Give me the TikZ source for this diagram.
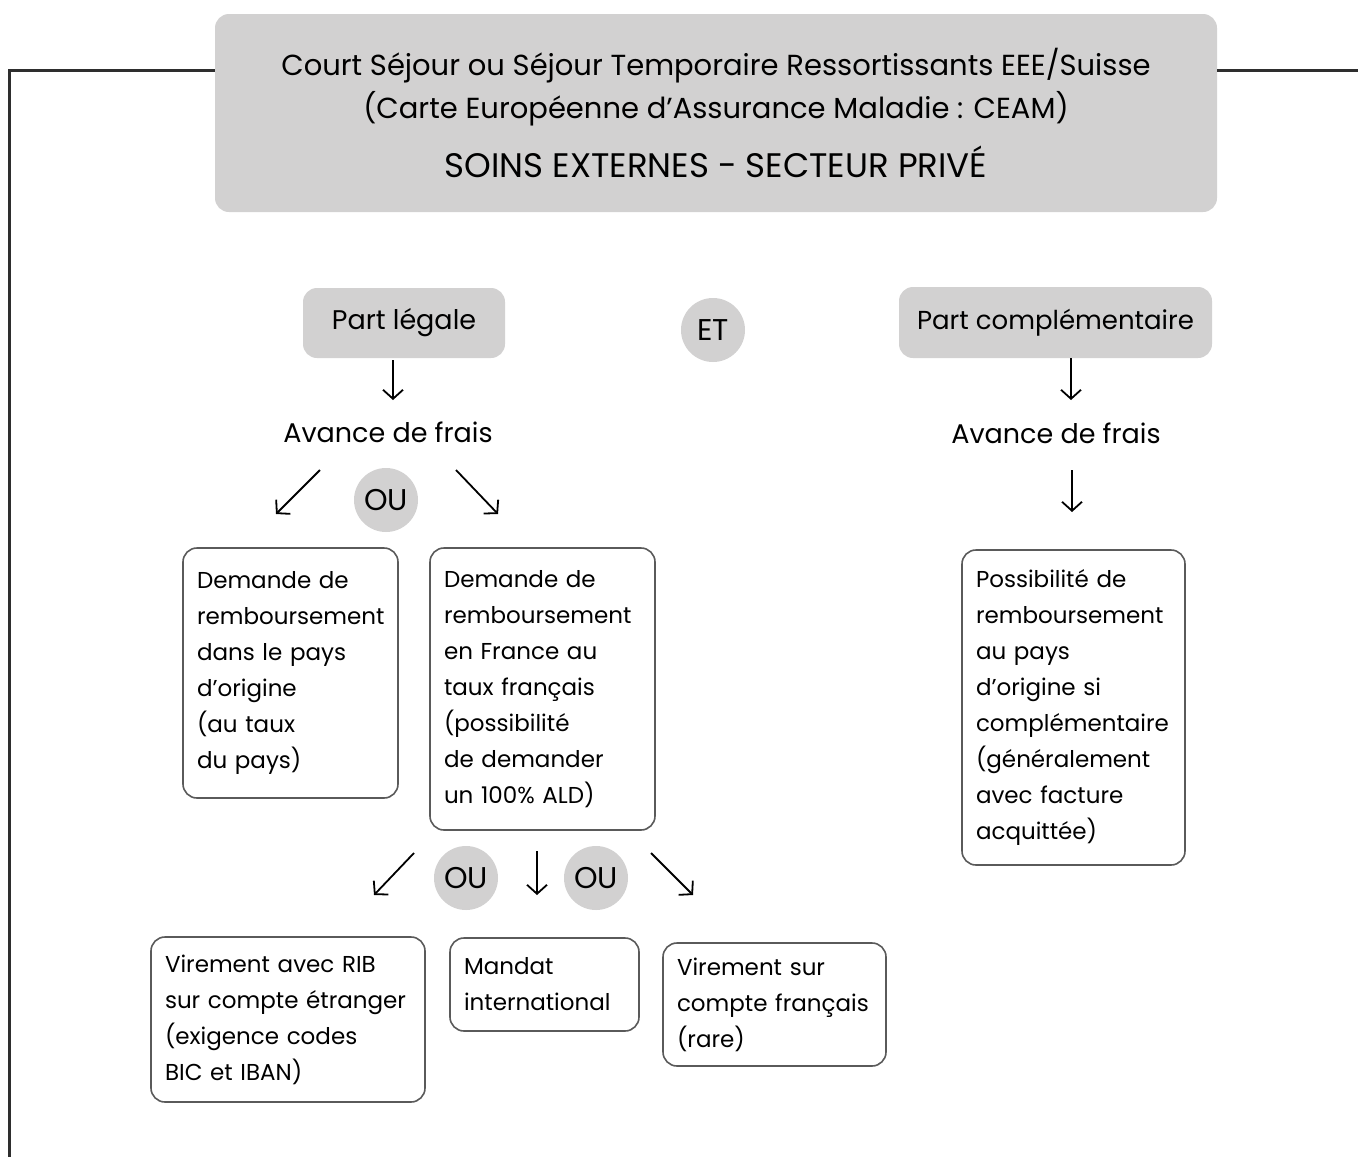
\documentclass[tikz,border=0pt]{standalone}
\usepackage{fontspec}
\setmainfont{Poppins}
\usepackage{xcolor}
\usepackage{tikz}
\usetikzlibrary{arrows.meta}

\definecolor{boxgray}{HTML}{D2D1D1}
\definecolor{linegray}{HTML}{5A5A5A}
\definecolor{framegray}{HTML}{2E2E2E}

\begin{document}
\begin{tikzpicture}[x=1pt, y=-1pt,
  graybox/.style={fill=boxgray, rounded corners=14pt, inner sep=0pt, align=center},
  oucircle/.style={circle, fill=boxgray, minimum size=64pt, inner sep=0pt, font=\fontsize{30}{32}\selectfont},
  infobox/.style={draw=linegray, line width=1.6pt, rounded corners=14pt, align=left, inner xsep=14pt, inner ysep=0pt, font=\fontsize{23}{36}\selectfont},
  plaintext/.style={font=\fontsize{27}{30}\selectfont},
  frame/.style={draw=framegray, line width=3pt},
  arr/.style={line width=1.8pt, -{Straight Barb[length=9pt,width=20pt]}}]
\useasboundingbox (0,0) rectangle (1358,1157);

% title
\node[graybox, minimum width=1002pt, minimum height=198pt, font=\fontsize{29}{43}\selectfont] (tb) at (716,113)
  {Court Séjour ou Séjour Temporaire Ressortissants EEE/Suisse\\
   (Carte Européenne d’Assurance Maladie : CEAM)\\[16pt]
   {\fontsize{34}{43}\selectfont SOINS EXTERNES - SECTEUR PRIVÉ}};
\coordinate (fbl) at (9,1157);
\coordinate (ftl) at (9,70);
\coordinate (ftr) at (1358,70);
\draw[frame] (fbl) -- (ftl) -- (ftl -| tb.west);
\draw[frame] (ftr -| tb.east) -- (ftr);

% parts
\node[graybox, minimum width=202pt, minimum height=70pt, plaintext] (pl) at (404,323) {Part légale};
\node[oucircle] (et) at (713,330) {ET};
\node[graybox, minimum width=313pt, minimum height=71pt, plaintext, font=\fontsize{26}{30}\selectfont] (pc) at (1055.5,322.5) {Part complémentaire};

\node[plaintext] (avl) at (388,432) {Avance de frais};
\node[plaintext] (avr) at (1056,433) {Avance de frais};

\node[oucircle] (ou1) at (386,500) {OU};
\node[oucircle] (ou2) at (466,878) {OU};
\node[oucircle] (ou3) at (596,878) {OU};

% boxes
\node[infobox, text width=187pt, minimum height=250pt] (b1) at (290.5,673)
  {Demande~de\\ remboursement\\ dans~le~pays\\ d’origine\\ (au~taux\\ du~pays)};
\node[infobox, text width=197pt, minimum height=282pt] (b2) at (542.5,689)
  {Demande~de\\ remboursement\\ en~France~au\\ taux~français\\ (possibilité\\ de~demander\\ un~100\%~ALD)};
\node[infobox, text width=195pt, minimum height=315pt] (b3) at (1073.5,707.5)
  {Possibilité~de\\ remboursement\\ au~pays\\ d’origine~si\\ complémentaire\\ (généralement\\ avec~facture\\ acquittée)};
\node[infobox, text width=246pt, minimum height=165pt] (b4) at (288,1019.5)
  {Virement~avec~RIB\\ sur~compte~étranger\\ (exigence~codes\\ BIC~et~IBAN)};
\node[infobox, text width=161pt, minimum height=93pt] (b5) at (544.5,984.5)
  {Mandat\\ international};
\node[infobox, text width=195pt, minimum height=123pt] (b6) at (774.5,1004.5)
  {Virement~sur\\ compte~français\\ (rare)};

% arrows
\coordinate (a1s) at (393,360);  \coordinate (a1e) at (393,400);
\coordinate (a2s) at (1071,358); \coordinate (a2e) at (1071,400);
\coordinate (a3s) at (1072,470); \coordinate (a3e) at (1072,512);
\coordinate (a4s) at (320,470);  \coordinate (a4e) at (276,514);
\coordinate (a5s) at (456,470);  \coordinate (a5e) at (498,514);
\coordinate (a6s) at (414,853);  \coordinate (a6e) at (374,895);
\coordinate (a7s) at (537,851);  \coordinate (a7e) at (537,895);
\coordinate (a8s) at (651,853);  \coordinate (a8e) at (693,895);
\foreach \i in {1,...,8}
  \draw[arr] (a\i s) -- (a\i e);
\end{tikzpicture}
\end{document}
